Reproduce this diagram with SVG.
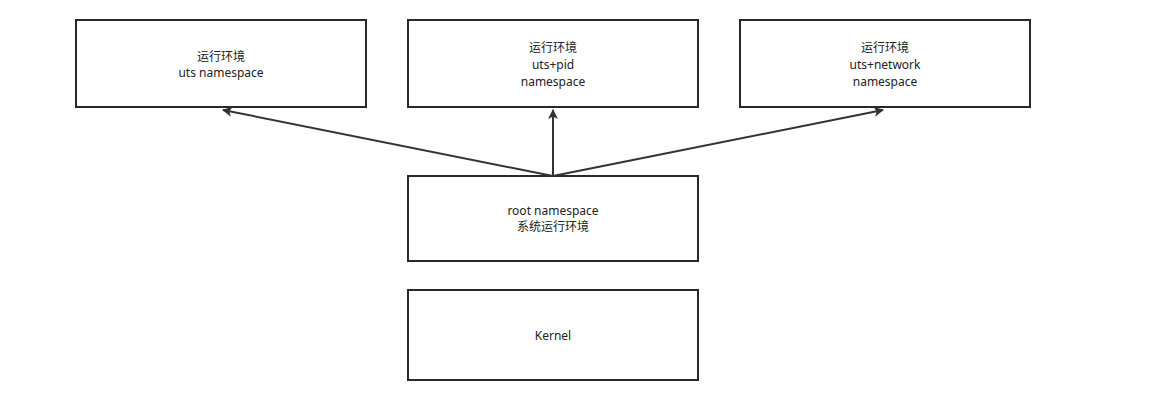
<svg xmlns="http://www.w3.org/2000/svg" width="1158" height="420" viewBox="0 0 1158 420">
<style>
.box{fill:#fff;stroke:#262a30;stroke-width:2}
.t{font-family:"Noto Sans","Noto Sans CJK SC",sans-serif;font-size:12px;fill:#222;text-anchor:middle}
.c{stroke:#333;stroke-width:2;fill:none}
</style>
<defs>
<marker id="ah" viewBox="0 0 10 10" refX="9" refY="5" markerWidth="12" markerHeight="10" orient="auto" markerUnits="userSpaceOnUse">
<path d="M0,0 L10,5 L0,10 L2.5,5 Z" fill="#333"/>
</marker>
</defs>
<rect width="1158" height="420" fill="#fff"/>
<g id="n1"><rect class="box" x="76" y="20" width="290" height="87"/><text class="t" x="221" y="61">运行环境</text><text class="t" x="221" y="77">uts namespace</text></g>
<g id="n2"><rect class="box" x="408" y="20" width="290" height="87"/><text class="t" x="553" y="52">运行环境</text><text class="t" x="553" y="69">uts+pid</text><text class="t" x="553" y="86">namespace</text></g>
<g id="n3"><rect class="box" x="740" y="20" width="290" height="87"/><text class="t" x="885" y="52">运行环境</text><text class="t" x="885" y="69">uts+network</text><text class="t" x="885" y="86">namespace</text></g>
<g id="n4"><rect class="box" x="408" y="176" width="290" height="85"/><text class="t" x="553" y="215">root namespace</text><text class="t" x="553" y="231">系统运行环境</text></g>
<g id="n5"><rect class="box" x="408" y="290" width="290" height="90"/><text class="t" x="553" y="340">Kernel</text></g>
<g id="connectors">
<path class="c" d="M553,176 L223,110" marker-end="url(#ah)"/>
<path class="c" d="M553,176 L553,110" marker-end="url(#ah)"/>
<path class="c" d="M553,176 L883,110" marker-end="url(#ah)"/>
</g>
</svg>
